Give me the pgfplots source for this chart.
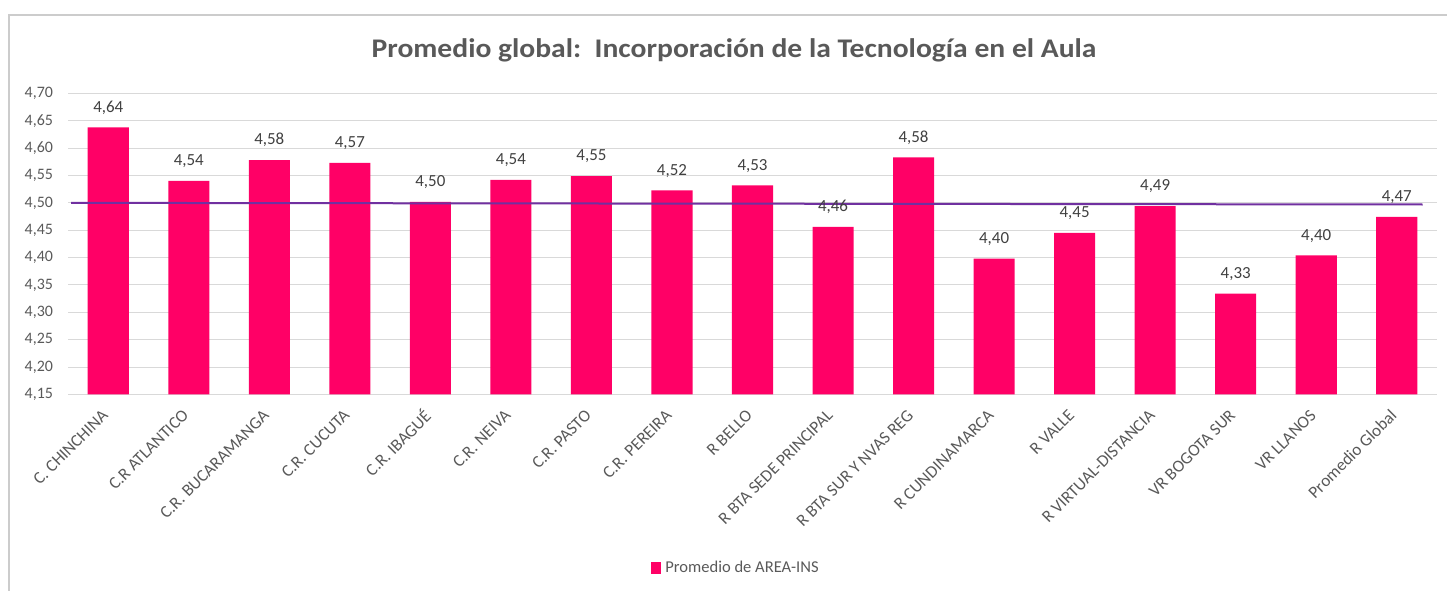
\documentclass[border=0pt]{standalone}
\usepackage{graphicx}
\usepackage{pgfplots}
\pgfplotsset{compat=1.18}
\usepackage{fontspec}
\setmainfont{Carlito}
\definecolor{barpink}{HTML}{FF0066}
\definecolor{avgpurple}{HTML}{7030A0}
\definecolor{gridgray}{HTML}{D9D9D9}
\definecolor{bordergray}{HTML}{CCCCCC}
\definecolor{txtgray}{HTML}{595959}
\definecolor{lblgray}{HTML}{404040}
\begin{document}
\begin{tikzpicture}
\path[use as bounding box] (-34bp,-98.3bp) rectangle (689.5bp,197.2bp);
\draw[bordergray, line width=0.8bp] (-29.35bp,-98.3bp) -- (-29.35bp,189.8bp) -- (689.5bp,189.8bp);
\begin{axis}[
  scale only axis,
  width=684.5bp, height=150.5bp,
  at={(0,0)}, anchor=south west,
  xmin=-0.5, xmax=16.5,
  ymin=4.15, ymax=4.70,
  ytick={4.15,4.20,...,4.71},
  xtick={0,...,16},
  xticklabels={C. CHINCHINA, C.R ATLANTICO, C.R. BUCARAMANGA, C.R. CUCUTA, C.R. IBAGUÉ, C.R. NEIVA, C.R. PASTO, C.R. PEREIRA, R BELLO, R BTA SEDE PRINCIPAL, R BTA SUR Y NVAS REG, R CUNDINAMARCA, R VALLE, R VIRTUAL-DISTANCIA, VR BOGOTA SUR, VR LLANOS, Promedio Global},
  xticklabel style={yshift=-9bp, xshift=-1.5bp, rotate=45, anchor=east, font=\fontsize{8.6}{9}\selectfont, text=txtgray, inner sep=0pt},
  yticklabel style={font=\fontsize{8}{9}\selectfont, text=txtgray, xshift=-4bp,
    /pgf/number format/.cd, fixed, fixed zerofill, precision=2, use comma},
  /pgf/number format/assume math mode=true,
  ymajorgrids,
  grid style={gridgray, line width=0.5bp},
  axis line style={draw=none},
  major tick length=0pt,
  ybar, bar width=0.51,
  bar shift=0pt,
  nodes near coords,
  nodes near coords style={font=\fontsize{8.5}{10}\selectfont, text=lblgray, yshift=3bp,
    /pgf/number format/.cd, fixed, fixed zerofill, precision=2, use comma, assume math mode=true},
  legend style={at={(0.4887,-0.577)}, anchor=center, draw=none, fill=none,
    font=\fontsize{8.3}{9}\selectfont, text=txtgray},
  legend image code/.code={\fill[barpink] (0bp,-3bp) rectangle (5bp,3bp);},
  clip=false,
]
\addplot[fill=barpink, draw=none] coordinates {
(0,4.638) (1,4.540) (2,4.578) (3,4.573) (4,4.502) (5,4.542) (6,4.549) (7,4.523)
(8,4.532) (9,4.456) (10,4.583) (11,4.398) (12,4.445) (13,4.494) (14,4.334) (15,4.404) (16,4.4745)
};
\addlegendentry{Promedio de AREA-INS}
\addplot[sharp plot, avgpurple, line width=1bp, nodes near coords={}, forget plot] coordinates {(-0.46,4.500) (16.32,4.497)};
\end{axis}
\node[text=txtgray, inner sep=0pt] at (333bp,172.2bp) {\scalebox{1.1}[1]{\bfseries\fontsize{13.5}{15}\selectfont Promedio global:\ \ Incorporación\ de la Tecnología\ en el Aula}};
\end{tikzpicture}
\end{document}
